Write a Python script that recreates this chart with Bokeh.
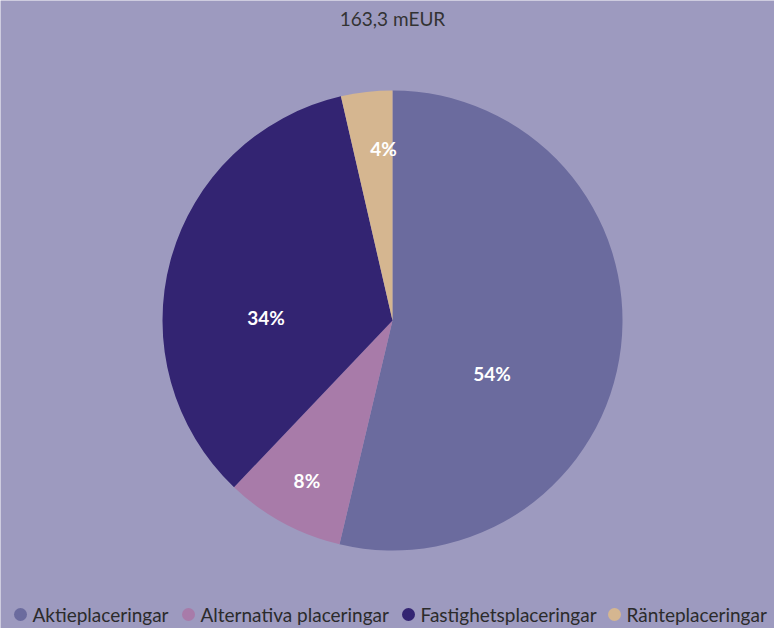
import math
from bokeh.plotting import figure
from bokeh.models import ColumnDataSource, Range1d
from bokeh.core.properties import value
from bokeh.embed import file_html
from bokeh.resources import INLINE

# ---- data ----
title_text = "163,3 mEUR"
categories = ["Aktieplaceringar", "Alternativa placeringar", "Fastighetsplaceringar", "Ränteplaceringar"]
shares = [53.7, 8.4, 34.3, 3.6]
labels = ["54%", "8%", "34%", "4%"]
colors = ["#6b6b9e", "#a87ba9", "#332472", "#d5b690"]

# ---- style / layout ----
W, H = 774, 628
BG = "#9d9abf"
FONT = "Lato"
cx, cy, R = 392, 308, 230
# label placement: (radius fraction, angle in degrees, math convention)
label_place = [(0.49, -28.0), (0.79, -118.1), (0.55, 178.5), (0.75, 93.0)]
# legend layout (marker x) in pixels
legend_marker_x = [20, 188, 408, 614]
legend_y = 14

total = sum(shares)
starts, ends = [], []
a = math.pi / 2
for s in shares:
    starts.append(a)
    a -= s / total * 2 * math.pi
    ends.append(a)

src = ColumnDataSource(dict(x=[cx] * 4, y=[cy] * 4, start=starts, end=ends,
                            color=colors, cat=categories))

p = figure(width=W, height=H, output_backend="svg", toolbar_location=None,
           x_range=Range1d(0, W), y_range=Range1d(0, H), min_border=0)
p.axis.visible = False
p.grid.visible = False
p.outline_line_color = None
p.background_fill_color = BG
p.border_fill_color = BG

p.wedge(x="x", y="y", radius=R, start_angle="start", end_angle="end",
        direction="clock", fill_color="color", line_color=None, source=src)

lx = [cx + R * f * math.cos(math.radians(d)) for f, d in label_place]
ly = [cy + R * f * math.sin(math.radians(d)) for f, d in label_place]
p.text(x=lx, y=ly, text=labels, text_color="white", text_font=value(FONT),
       text_font_style="bold", text_font_size="19px", text_align="center",
       text_baseline="middle")

p.text(x=[cx], y=[H - 18], text=[title_text], text_color="#333333",
       text_font=value(FONT), text_font_size="19px", text_align="center",
       text_baseline="middle")

# legend drawn as markers + text
p.scatter(x=legend_marker_x, y=[legend_y] * 4, marker="circle", size=13,
          fill_color=colors, line_color=None)
p.text(x=[m + 12 for m in legend_marker_x], y=[legend_y] * 4, text=categories,
       text_color="#2b2b2b", text_font=value(FONT), text_font_size="19px",
       text_align="left", text_baseline="middle")

open("out.html", "w").write(file_html(p, INLINE))
